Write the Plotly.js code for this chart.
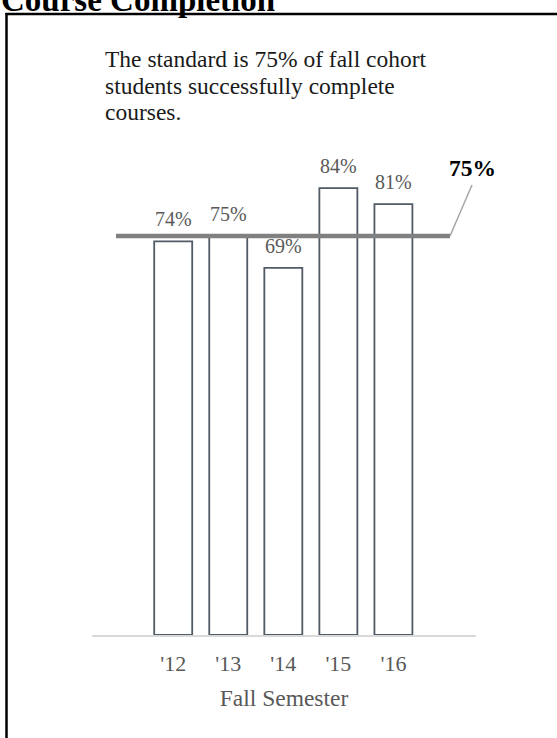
<!DOCTYPE html>
<html>
<head>
<meta charset="utf-8">
<script src="https://cdn.plot.ly/plotly-3.0.1.min.js"></script>
<style>
  html, body { margin: 0; padding: 0; background: #fff; }
  #chart { width: 557px; height: 738px; }
</style>
</head>
<body>
<div id="chart"></div>
<script>
// ---- data ----
const categories = ["'12", "'13", "'14", "'15", "'16"];
const completion = [74, 75, 69, 84, 81];
const barLabels = ["74%", "75%", "69%", "84%", "81%"];
const standard = 75;
const standardLabel = "75%";
const chartTitle = "Course Completion";
const xTitle = "Fall Semester";
const noteLines = ["The standard is 75% of fall cohort", "students successfully complete", "courses."];

// ---- geometry helpers (layout only) ----
const W = 557, H = 738;
const M = { l: 92, r: 81, t: 103, b: 103 };
const PW = W - M.l - M.r, PH = H - M.t - M.b;
const px2x = x => (x - M.l) / PW;          // paper x
const px2y = y => (H - M.b - y) / PH;      // paper y
const idx = categories.map((c, i) => i);

const serif = "Liberation Serif, Times New Roman, serif";
const grayText = "#595959";

const annotations = [];
// title (partly cut off at the top, as in the reference)
annotations.push({
  x: px2x(0), y: px2y(19), xref: 'paper', yref: 'paper',
  text: '<b>' + chartTitle + '</b>', showarrow: false,
  xanchor: 'left', yanchor: 'bottom', borderpad: 0,
  font: { family: serif, size: 33, color: '#000' }
});
// value labels above bars
idx.forEach(i => annotations.push({
  x: i, y: completion[i], xref: 'x', yref: 'y',
  text: barLabels[i], showarrow: false,
  yanchor: 'bottom', yshift: 9,
  font: { family: serif, size: 20, color: grayText }
}));
// note text
noteLines.forEach((t, k) => annotations.push({
  x: px2x(103), y: px2y(68 + k * 26.5), xref: 'paper', yref: 'paper',
  text: t, showarrow: false, xanchor: 'left', yanchor: 'bottom', yshift: -6,
  font: { family: serif, size: 23.5, color: '#1a1a1a' }
}));
// standard label
annotations.push({
  x: px2x(472), y: px2y(168), xref: 'paper', yref: 'paper',
  text: '<b>' + standardLabel + '</b>', showarrow: false,
  xanchor: 'center', yanchor: 'middle',
  font: { family: serif, size: 23.5, color: '#000' }
});

const shapes = [
  // standard line
  { type: 'line', xref: 'paper', yref: 'y', x0: px2x(116), x1: px2x(450), y0: standard, y1: standard,
    line: { color: '#808080', width: 4.5 }, layer: 'above' },
  // leader line
  { type: 'line', xref: 'paper', yref: 'paper', x0: px2x(450), y0: px2y(236), x1: px2x(472), y1: px2y(185),
    line: { color: '#a6a6a6', width: 1.5 } },
  // frame (left + top)
  { type: 'line', xref: 'paper', yref: 'paper', x0: px2x(6.5), x1: px2x(6.5), y0: px2y(13), y1: px2y(745),
    line: { color: '#000', width: 2.5 } },
  { type: 'line', xref: 'paper', yref: 'paper', x0: px2x(5.5), x1: px2x(565), y0: px2y(14), y1: px2y(14),
    line: { color: '#000', width: 2.5 } }
];

const trace = {
  type: 'bar', x: idx, y: completion, width: 0.69,
  marker: { color: 'rgba(255,255,255,0)', line: { color: '#505b66', width: 1.8 } },
  hoverinfo: 'skip'
};

const layout = {
  width: W, height: H,
  margin: M,
  paper_bgcolor: '#fff', plot_bgcolor: '#fff',
  showlegend: false,
  xaxis: {
    range: [-1.475, 5.5], tickmode: 'array', tickvals: idx, ticktext: categories,
    showgrid: false, zeroline: false, showline: true, linecolor: '#d9d9d9', linewidth: 1.5,
    ticks: '', ticklabelstandoff: 8, tickfont: { family: serif, size: 22, color: grayText },
    title: { text: xTitle, font: { family: serif, size: 23.5, color: grayText }, standoff: 14 }
  },
  yaxis: { range: [0, 100], visible: false, showgrid: false, zeroline: false },
  annotations, shapes
};

Plotly.newPlot('chart', [trace], layout, { displayModeBar: false, staticPlot: true });
</script>
</body>
</html>
